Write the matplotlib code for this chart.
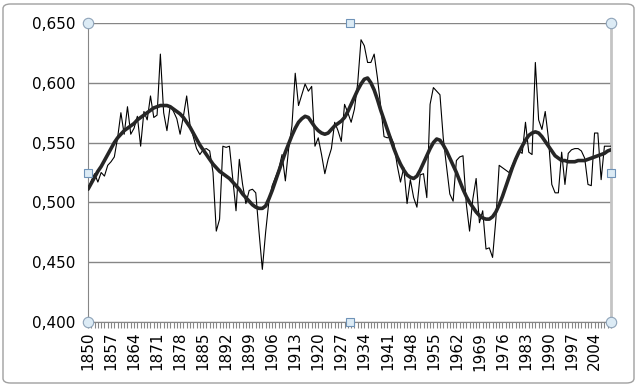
import matplotlib
matplotlib.use("Agg")
import matplotlib.pyplot as plt
from matplotlib.patches import FancyBboxPatch
import numpy as np

years = list(range(1850, 2010))

annual = [
    0.511, 0.518, 0.524, 0.517, 0.525, 0.522, 0.531, 0.534, 0.538, 0.554,
    0.575, 0.557, 0.580, 0.557, 0.562, 0.572, 0.547, 0.576, 0.569, 0.589,
    0.571, 0.573, 0.624, 0.575, 0.560, 0.581, 0.576, 0.570, 0.557, 0.572,
    0.589, 0.565, 0.555, 0.545, 0.540, 0.544, 0.545, 0.543, 0.525, 0.476,
    0.486, 0.547, 0.546, 0.547, 0.520, 0.493, 0.536, 0.515, 0.499, 0.510,
    0.511, 0.508, 0.475, 0.444, 0.475, 0.501, 0.514, 0.521, 0.528, 0.540,
    0.518, 0.545, 0.564, 0.608, 0.581, 0.590, 0.599, 0.593, 0.597, 0.547,
    0.554, 0.540, 0.524, 0.536, 0.545, 0.567, 0.560, 0.551, 0.582, 0.575,
    0.567, 0.578, 0.600, 0.636, 0.631, 0.617, 0.617, 0.624, 0.604, 0.580,
    0.555, 0.554, 0.555, 0.549, 0.531, 0.517, 0.529, 0.499, 0.519, 0.504,
    0.496, 0.523, 0.524, 0.504, 0.582, 0.596, 0.593, 0.590, 0.554, 0.530,
    0.507, 0.501, 0.535, 0.538, 0.539, 0.499, 0.476, 0.503, 0.520, 0.483,
    0.493, 0.461, 0.462, 0.454, 0.486, 0.531, 0.529, 0.527, 0.525, 0.531,
    0.537, 0.543, 0.541, 0.567, 0.542, 0.540, 0.617, 0.569, 0.561, 0.576,
    0.553, 0.515, 0.508, 0.508, 0.542, 0.515, 0.541, 0.544, 0.545, 0.545,
    0.543, 0.537, 0.515, 0.514, 0.558, 0.558, 0.519, 0.547, 0.547, 0.547,
]

smooth = [
    0.511, 0.516, 0.521, 0.526, 0.530, 0.535, 0.540, 0.545, 0.550, 0.554,
    0.557, 0.560, 0.562, 0.564, 0.566, 0.569, 0.571, 0.573, 0.575, 0.577,
    0.579, 0.580, 0.581, 0.581, 0.581, 0.580, 0.578, 0.576, 0.574, 0.571,
    0.567, 0.563, 0.558, 0.553, 0.548, 0.544, 0.540, 0.536, 0.532, 0.529,
    0.526, 0.524, 0.522, 0.520, 0.517, 0.514, 0.511, 0.507, 0.504, 0.501,
    0.498, 0.496, 0.495, 0.495, 0.497, 0.503, 0.510, 0.518, 0.526, 0.534,
    0.542, 0.549, 0.556, 0.562, 0.567, 0.570, 0.572, 0.571, 0.567, 0.563,
    0.560, 0.558, 0.557, 0.558, 0.561, 0.564, 0.566, 0.568, 0.571, 0.576,
    0.582, 0.588, 0.594, 0.599, 0.603, 0.604, 0.600, 0.594, 0.586, 0.577,
    0.569, 0.561, 0.553, 0.545, 0.538, 0.532, 0.527, 0.523, 0.521, 0.520,
    0.522, 0.527, 0.533, 0.539, 0.545, 0.550, 0.553, 0.552, 0.548, 0.543,
    0.537, 0.531, 0.525, 0.518, 0.511, 0.505, 0.500, 0.496, 0.492, 0.489,
    0.487, 0.486, 0.486, 0.488, 0.492, 0.498, 0.505, 0.513, 0.521, 0.529,
    0.536, 0.542, 0.547, 0.552, 0.556, 0.558, 0.559, 0.558, 0.555, 0.551,
    0.547, 0.543, 0.539, 0.537, 0.535, 0.535, 0.534, 0.534, 0.534, 0.535,
    0.535, 0.535, 0.536, 0.537, 0.538, 0.539, 0.540, 0.541, 0.543, 0.544,
]

y_ticks = [0.400, 0.450, 0.500, 0.550, 0.600, 0.650]
label_step = 7

plt.rcParams['font.family'] = ['DejaVu Sans']

W, H = 637, 386
fig = plt.figure(figsize=(W / 100, H / 100), dpi=100)
fig.patch.set_facecolor('white')

# outer chart border
border = FancyBboxPatch((3 / W, 3 / H), (W - 6) / W, (H - 7) / H,
                        boxstyle="round,pad=0,rounding_size=0.012",
                        transform=fig.transFigure, facecolor='none',
                        edgecolor='#a0a0a0', linewidth=1.0, zorder=-5)
fig.patches.append(border)

L, R, T, B = 88, 611, 23, 322
ax = fig.add_axes([L / W, 1 - B / H, (R - L) / W, (B - T) / H])
ax.set_facecolor('none')

x = np.arange(len(years))
ax.plot(x, annual, color='black', linewidth=0.8, zorder=3)
ax.plot(x, smooth, color='#262626', linewidth=2.6, zorder=4,
        solid_capstyle='round')

ax.set_xlim(0, len(years) - 1)
ax.set_ylim(y_ticks[0], y_ticks[-1])
ax.set_yticks(y_ticks)
ax.set_yticklabels([f"{v:.3f}".replace('.', ',') for v in y_ticks])
ax.yaxis.grid(True, color='#868686', linewidth=1.0)
ax.set_axisbelow(True)

major = x[::label_step]
ax.set_xticks(major)
ax.set_xticklabels([str(years[i]) for i in major], rotation=90)
ax.set_xticks(x, minor=True)
ax.tick_params(axis='x', which='both', length=4, width=0.8, color='#868686',
               direction='out', pad=3, labelsize=11)
ax.tick_params(axis='y', length=0, pad=9, labelsize=11)

ax.spines['top'].set_visible(False)
ax.spines['left'].set_color('#868686')
ax.spines['bottom'].set_color('#868686')
ax.spines['right'].set_color('#c4c4c4')
ax.spines['right'].set_linewidth(2.0)

# selection handles
cx = [0, 1, 0, 1]
cy = [0, 0, 1, 1]
ax.plot(cx, cy, linestyle='none', marker='o', markersize=7.5,
        markerfacecolor='#dcebf5', markeredgecolor='#8ea3b8',
        markeredgewidth=0.8, transform=ax.transAxes, clip_on=False, zorder=6)
sx = [0.5, 0.5, 0, 1]
sy = [0, 1, 0.5, 0.5]
ax.plot(sx, sy, linestyle='none', marker='s', markersize=5.5,
        markerfacecolor='#dcebf5', markeredgecolor='#6f93b8',
        markeredgewidth=0.8, transform=ax.transAxes, clip_on=False, zorder=6)

fig.savefig('out.png', dpi=100)
